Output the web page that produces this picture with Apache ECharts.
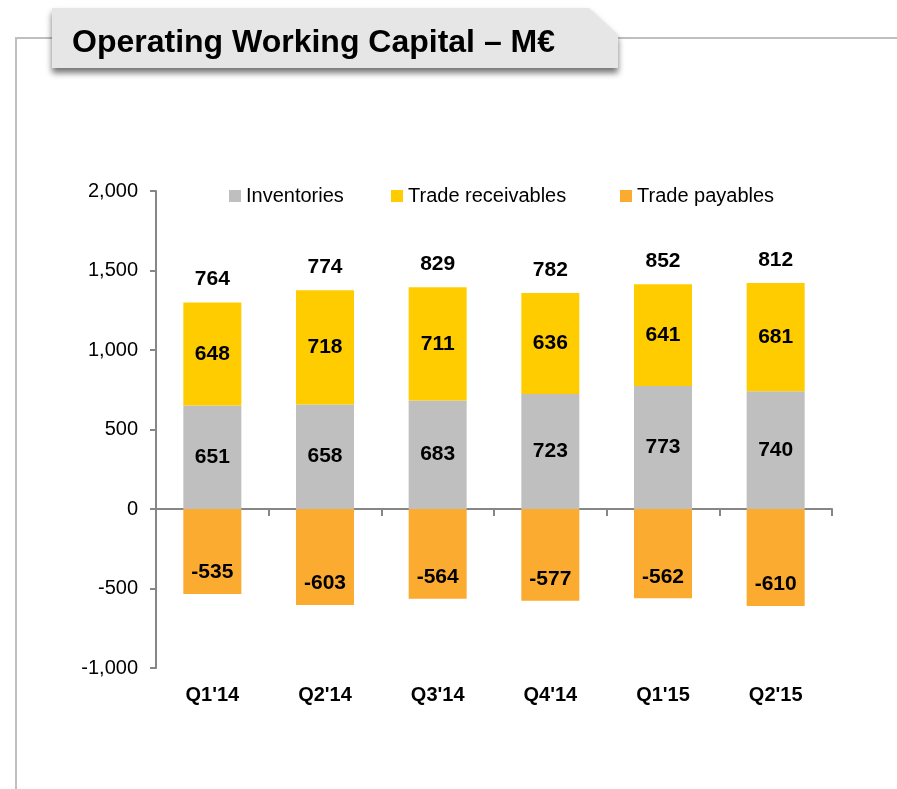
<!DOCTYPE html>
<html>
<head>
<meta charset="utf-8">
<script src="https://cdn.jsdelivr.net/npm/echarts@6/dist/echarts.min.js"></script>
<style>
html,body{margin:0;padding:0;background:#fff;}
#chart{width:897px;height:789px;}
</style>
</head>
<body>
<div id="chart"></div>
<script>
const categories = ["Q1'14", "Q2'14", "Q3'14", "Q4'14", "Q1'15", "Q2'15"];
const inventories = [651, 658, 683, 723, 773, 740];
const receivables = [648, 718, 711, 636, 641, 681];
const payables = [-535, -603, -564, -577, -562, -610];
const totals = [764, 774, 829, 782, 852, 812];
const yTicks = { min: -1000, max: 2000, interval: 500 };
const titleText = 'Operating Working Capital – M€';

const FONT = '"Liberation Sans", Arial, sans-serif';
const stackTop = inventories.map((v, i) => v + receivables[i]);

const chart = echarts.init(document.getElementById('chart'));
const fmt = v => {
  const s = Math.abs(v).toString().replace(/\B(?=(\d{3})+(?!\d))/g, ',');
  return (v < 0 ? '-' : '') + s;
};
const dataLabel = {
  show: true,
  position: 'inside',
  color: '#000',
  fontFamily: FONT,
  fontWeight: 'bold',
  fontSize: 21
};
const legendCommon = {
  top: 186,
  itemWidth: 12,
  itemHeight: 12,
  icon: 'rect',
  padding: 0,
  selectedMode: false,
  textStyle: { fontFamily: FONT, fontSize: 20, color: '#000' }
};

chart.setOption({
  animation: false,
  backgroundColor: '#fff',
  textStyle: { fontFamily: FONT },
  graphic: [
    { type: 'polyline', silent: true, shape: { points: [[16, 789], [16, 38], [52, 38]] },
      style: { stroke: '#BFBFBF', lineWidth: 2, fill: null } },
    { type: 'line', silent: true, shape: { x1: 618, y1: 38, x2: 897, y2: 38 },
      style: { stroke: '#BFBFBF', lineWidth: 2 } },
    { type: 'polygon', silent: true, shape: { points: [[52, 8], [589, 8], [618, 35], [618, 68], [52, 68]] },
      style: { fill: '#E6E6E6', shadowBlur: 6, shadowOffsetY: 5, shadowColor: 'rgba(0,0,0,0.55)' } },
    { type: 'text', silent: true, x: 72, y: 43,
      style: { text: titleText, font: 'bold 32px ' + FONT, fill: '#000', verticalAlign: 'middle', align: 'left' } }
  ],
  legend: [
    Object.assign({ left: 229, data: ['Inventories'] }, legendCommon),
    Object.assign({ left: 391, data: ['Trade receivables'] }, legendCommon),
    Object.assign({ left: 620, data: ['Trade payables'] }, legendCommon)
  ],
  grid: { left: 156, right: 65, top: 191, bottom: 121, containLabel: false, outerBoundsMode: 'none' },
  xAxis: [
    {
      type: 'category',
      data: categories,
      position: 'bottom',
      axisLine: { onZero: true, lineStyle: { color: '#868686', width: 2 } },
      axisTick: { show: true, length: 7, interval: 0, lineStyle: { color: '#868686', width: 2 } },
      axisLabel: { show: false },
      splitLine: { show: false }
    },
    {
      type: 'category',
      data: categories,
      position: 'bottom',
      axisLine: { show: false, onZero: false },
      axisTick: { show: false },
      axisLabel: { show: true, margin: 17, color: '#000', fontFamily: FONT, fontWeight: 'bold', fontSize: 20, interval: 0 },
      splitLine: { show: false }
    }
  ],
  yAxis: {
    type: 'value',
    min: yTicks.min,
    max: yTicks.max,
    interval: yTicks.interval,
    axisLine: { show: true, lineStyle: { color: '#868686', width: 2 } },
    axisTick: { show: true, length: 6, lineStyle: { color: '#868686', width: 2 } },
    axisLabel: { margin: 18, color: '#000', fontFamily: FONT, fontSize: 20, formatter: fmt },
    splitLine: { show: false }
  },
  series: [
    { name: 'Inventories', type: 'bar', stack: 'owc', barWidth: 58, data: inventories,
      itemStyle: { color: '#BFBFBF' }, label: dataLabel },
    { name: 'Trade receivables', type: 'bar', stack: 'owc', barWidth: 58, data: receivables,
      itemStyle: { color: '#FFCC00' }, label: dataLabel },
    { name: 'Trade payables', type: 'bar', stack: 'owc', barWidth: 58, data: payables,
      itemStyle: { color: '#FBAB2F' },
      label: Object.assign({}, dataLabel, { position: 'insideBottom', distance: 11 }) },
    { name: 'Total', type: 'line', data: stackTop, symbol: 'circle', symbolSize: 1, silent: true,
      showSymbol: true, itemStyle: { color: 'rgba(0,0,0,0)' },
      lineStyle: { opacity: 0 }, z: 5,
      label: Object.assign({}, dataLabel, { position: 'top', distance: 12,
        formatter: p => String(totals[p.dataIndex]) }) }
  ]
});
</script>
</body>
</html>
